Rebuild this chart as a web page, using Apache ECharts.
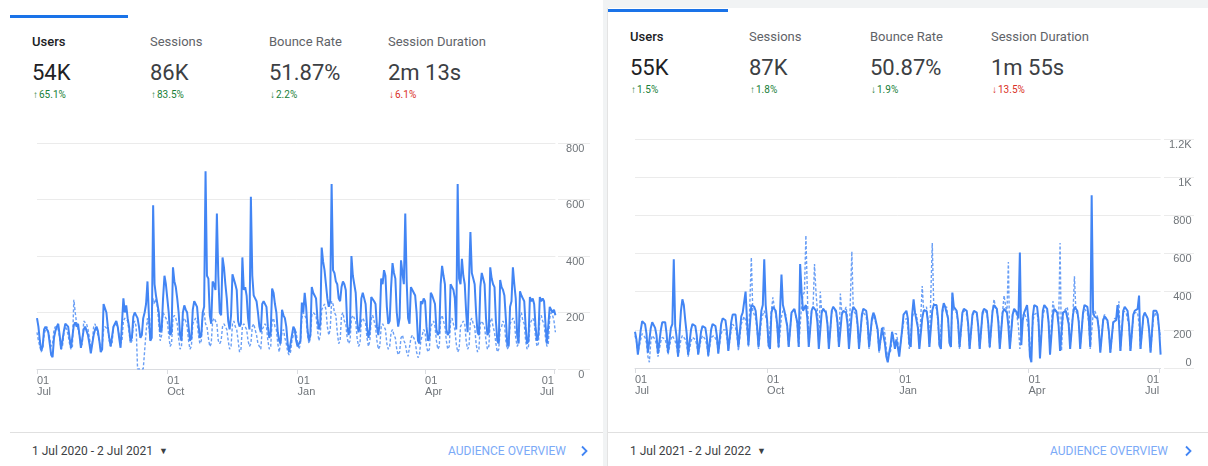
<!DOCTYPE html>
<html>
<head>
<meta charset="utf-8">
<script src="https://cdn.jsdelivr.net/npm/echarts@6.0.0/dist/echarts.min.js"></script>
<style>
  html, body { margin: 0; padding: 0; }
  body { width: 1208px; height: 466px; position: relative; overflow: hidden; background: #fff; font-family: Roboto, "Noto Sans", sans-serif; }
  .abs { position: absolute; white-space: nowrap; }
  .lbl { font-size: 13px; line-height: 13px; color: #5f6368; }
  .lbl.on { color: #202124; font-weight: 500; }
  .val { font-size: 22px; line-height: 22px; color: #3c4043; }
  .val.on { color: #202124; }
  .chg { font-size: 10px; line-height: 10px; }
  .chg b { font-weight: 700; margin-right: 1px; }
  .good { color: #188038; }
  .bad { color: #d93025; }
  .date { font-size: 12px; line-height: 12px; color: #3c4043; }
  .date span { font-size: 9px; margin-left: 6px; vertical-align: 1px; }
  .link { font-size: 12px; line-height: 12px; color: #7baaf7; }
  .bar { background: #1a73e8; height: 3px; }
  .rule { background: #e0e0e0; height: 1px; }
  #chart { position: absolute; left: 0; top: 0; width: 1208px; height: 466px; }
</style>
</head>
<body>
<div class="abs" style="left:603px;top:0;width:605px;height:8px;background:#f1f3f4"></div>
<div class="abs" style="left:603px;top:0;width:4px;height:466px;background:#f1f3f4"></div>
<div class="abs" style="left:607px;top:8px;width:1px;height:458px;background:#e3e3e3"></div>

<div class="abs bar" style="left:10px;top:15px;width:118px"></div>
<div class="abs bar" style="left:608px;top:9px;width:120px"></div>

<div id="kpis"></div>

<div class="abs rule" style="left:10px;top:432px;width:593px"></div>
<div class="abs rule" style="left:608px;top:432px;width:600px"></div>
<div class="abs date" style="left:32px;top:445px">1 Jul 2020 - 2 Jul 2021<span>▼</span></div>
<div class="abs date" style="left:630px;top:445px">1 Jul 2021 - 2 Jul 2022<span>▼</span></div>
<div class="abs link" style="left:448px;top:445px">AUDIENCE OVERVIEW</div>
<div class="abs link" style="left:1050px;top:445px">AUDIENCE OVERVIEW</div>
<svg class="abs" style="left:579px;top:445px" width="10" height="12"><polyline points="3,1.5 7.5,6 3,10.5" fill="none" stroke="#4285f4" stroke-width="1.8"/></svg>
<svg class="abs" style="left:1183px;top:445px" width="10" height="12"><polyline points="3,1.5 7.5,6 3,10.5" fill="none" stroke="#4285f4" stroke-width="1.8"/></svg>

<div id="chart"></div>

<script>
// KPI tabs
const kpiNames = ["Users", "Sessions", "Bounce Rate", "Session Duration"];
const kpiLeft = ["54K", "86K", "51.87%", "2m 13s"];
const kpiLeftChg = ["65.1%", "83.5%", "2.2%", "6.1%"];
const kpiRight = ["55K", "87K", "50.87%", "1m 55s"];
const kpiRightChg = ["1.5%", "1.8%", "1.9%", "13.5%"];
const kpiArrow = ["↑", "↑", "↓", "↓"];
const kpiTone = ["good", "good", "good", "bad"];

// daily users, one row per week (left: from Wed 1 Jul 2020, right: from Thu 1 Jul 2021)
const usersLeft = [
  180,150,100,65,80,140,150,
  145,130,90,50,42,110,135,
  150,160,120,70,75,135,160,
  165,150,110,75,80,155,165,
  150,160,120,75,80,140,150,
  150,120,90,55,55,120,140,
  150,135,100,60,70,230,215,
  200,150,110,80,75,150,160,
  170,150,110,75,80,250,200,
  225,180,150,100,110,185,200,
  190,180,150,110,120,180,200,
  230,310,190,100,110,580,300,
  260,230,200,130,140,250,330,
  300,250,200,120,130,360,310,
  290,250,200,120,100,200,225,
  210,200,150,100,110,210,240,
  230,220,160,110,120,200,220,
  700,330,320,190,160,310,300,
  280,550,330,200,190,395,360,
  300,250,170,140,190,335,330,
  300,280,170,150,160,395,280,
  290,260,180,140,610,330,260,
  250,240,200,150,130,230,240,
  235,220,150,110,130,285,270,
  230,200,130,100,90,210,190,
  180,150,90,60,55,120,150,
  140,100,80,75,100,235,200,
  270,220,140,100,120,290,270,
  260,250,180,140,160,430,380,
  350,300,250,220,240,655,350,
  340,310,300,250,240,290,310,
  300,280,160,120,150,400,330,
  300,270,170,130,150,250,270,
  250,230,150,110,140,255,250,
  240,230,150,120,170,320,300,
  350,330,220,160,170,290,375,
  340,320,200,150,180,385,340,
  300,550,310,180,160,290,280,
  270,260,200,100,90,240,230,
  250,240,150,100,110,270,260,
  260,230,140,120,130,300,365,
  330,300,140,120,130,300,300,
  280,250,140,655,320,300,390,
  330,300,200,130,125,485,340,
  320,300,200,130,120,290,340,
  320,300,180,120,130,360,320,
  300,290,170,100,90,315,290,
  280,260,180,90,80,220,240,
  360,300,250,120,90,275,260,
  250,240,150,90,100,255,240,
  250,230,150,100,120,255,240,
  250,240,160,90,85,220,210,
  200,210,190
];
const prevLeft = [
  130,100,80,60,75,120,140,
  150,130,110,80,90,140,150,
  150,140,110,70,80,130,150,
  140,120,90,70,80,245,200,
  160,140,120,80,90,170,175,
  160,140,110,80,90,150,160,
  140,120,100,70,80,140,150,
  150,140,100,80,90,150,160,
  160,150,120,90,100,170,180,
  180,170,130,90,100,160,170,
  150,0,0,0,0,0,0,
  130,180,150,100,200,250,230,
  250,220,160,100,120,200,190,
  180,170,120,80,90,180,190,
  180,160,110,70,80,170,180,
  170,150,100,70,80,160,170,
  180,170,120,90,100,190,200,
  160,150,110,80,90,170,180,
  180,160,100,90,100,150,160,
  160,140,100,70,80,160,170,
  150,140,100,60,70,150,160,
  160,140,100,80,90,150,160,
  140,120,90,80,70,140,150,
  160,150,100,70,80,170,180,
  150,140,90,60,60,130,140,
  110,90,60,50,60,100,120,
  140,130,90,70,90,180,200,
  190,180,120,90,110,190,200,
  200,190,140,100,120,210,220,
  230,210,150,120,140,240,230,
  200,190,130,90,100,190,200,
  170,160,110,90,100,180,190,
  180,170,110,80,90,170,180,
  170,160,110,80,100,180,190,
  170,150,100,70,80,150,160,
  150,140,90,70,80,130,140,
  120,110,70,50,60,110,120,
  100,90,60,45,50,110,120,
  110,100,60,40,50,100,120,
  140,130,80,60,70,150,160,
  170,150,100,70,80,180,190,
  170,150,100,70,80,170,180,
  160,140,90,60,70,150,160,
  170,160,100,70,80,170,180,
  160,150,90,60,70,160,170,
  170,150,100,70,80,170,180,
  150,130,90,60,70,140,150,
  170,160,100,70,80,160,170,
  180,170,110,80,90,190,200,
  170,160,100,70,80,160,170,
  180,170,110,80,90,180,190,
  170,160,110,80,90,180,200,
  190,170,130
];
const usersRight = [
  190,150,70,75,200,245,250,
  230,180,80,70,210,240,230,
  210,170,75,70,200,240,250,
  240,180,80,75,210,230,570,
  220,160,60,55,300,360,330,
  250,180,70,60,200,230,230,
  220,170,70,65,190,220,230,
  210,160,65,60,200,230,230,
  220,170,75,70,230,260,270,
  250,190,90,90,240,280,290,
  280,200,110,100,270,290,300,
  400,250,120,110,330,340,320,
  300,220,110,100,300,330,570,
  330,250,120,100,290,320,310,
  300,230,110,100,490,330,300,
  290,220,110,100,290,300,310,
  300,240,110,545,400,300,310,
  330,260,110,100,300,320,310,
  300,240,100,90,290,310,300,
  290,230,100,100,300,320,310,
  300,240,110,100,280,300,310,
  290,230,100,100,290,320,330,
  300,230,100,90,280,310,320,
  300,240,110,100,260,290,270,
  260,200,90,80,210,200,130,
  60,30,80,120,190,150,100,
  150,110,60,70,200,280,270,
  300,260,130,110,280,360,290,
  280,210,100,90,260,300,290,
  300,240,110,100,300,330,320,
  330,260,120,100,300,340,320,
  330,260,130,110,395,320,310,
  300,240,110,100,290,310,310,
  300,230,100,90,280,300,300,
  290,220,100,90,290,310,300,
  300,230,110,100,300,330,320,
  310,240,100,90,290,310,300,
  290,220,100,90,280,310,300,
  290,260,605,120,250,290,300,
  330,250,60,30,270,330,320,
  320,250,50,40,300,330,320,
  310,240,70,60,280,310,300,
  290,220,90,80,290,300,300,
  310,230,100,90,280,320,320,
  300,240,100,90,290,330,320,
  320,260,110,905,290,270,260,
  260,200,80,70,250,270,260,
  250,190,80,70,240,250,250,
  330,240,90,80,300,320,310,
  300,230,90,80,280,300,310,
  310,380,100,90,270,290,280,
  260,200,80,70,300,310,300,
  280,200,70
];
const prevRight = [
  170,140,80,70,150,180,170,
  160,130,60,30,140,170,160,
  150,120,60,60,140,160,160,
  150,120,70,60,150,170,160,
  140,110,60,60,150,170,170,
  150,120,60,60,140,160,160,
  150,120,70,60,150,170,160,
  150,120,60,60,160,170,170,
  170,140,80,70,180,200,200,
  200,160,90,80,200,230,220,
  210,170,90,80,230,250,270,
  250,200,110,100,580,300,290,
  260,200,100,90,250,280,300,
  300,240,110,100,300,370,320,
  280,220,100,90,270,300,300,
  280,220,110,100,290,300,310,
  300,230,110,100,330,380,400,
  695,400,120,110,300,320,545,
  400,300,130,400,290,310,300,
  300,240,110,100,290,320,310,
  290,230,110,390,290,300,300,
  320,260,120,110,610,300,290,
  280,220,100,90,270,290,280,
  270,210,100,90,250,270,260,
  230,180,80,70,200,220,180,
  100,60,60,90,150,180,190,
  180,140,80,80,190,240,250,
  260,210,100,90,260,290,290,
  280,220,110,100,430,300,300,
  320,250,110,100,655,330,320,
  310,240,110,100,290,310,300,
  320,260,130,110,390,300,300,
  290,230,100,90,280,300,290,
  280,220,100,90,270,290,290,
  280,220,100,90,280,300,300,
  290,230,100,90,300,360,320,
  320,260,110,100,300,380,330,
  290,555,100,90,290,300,300,
  270,220,100,90,270,290,280,
  250,200,60,50,240,280,290,
  290,230,90,80,280,300,300,
  300,240,100,90,350,310,300,
  290,230,655,90,280,300,300,
  320,260,110,100,290,480,300,
  300,260,110,100,280,310,300,
  290,230,100,90,280,300,290,
  270,210,90,80,260,280,270,
  240,190,80,70,230,260,250,
  260,350,90,80,300,300,290,
  280,220,90,80,270,290,300,
  290,230,100,90,270,290,280,
  260,200,90,80,260,290,280,
  260,200,160
];

const monthNames = ["Jan","Feb","Mar","Apr","May","Jun","Jul","Aug","Sep","Oct","Nov","Dec"];
const tickMonths = ["01", "04", "07", "10"];
const yTicksLeft = [0, 800, 200];
const yTicksRight = [0, 1200, 200];

function dayList(start, n) {
  const out = [];
  const t0 = Date.parse(start + "T00:00:00Z");
  for (let i = 0; i < n; i++) out.push(new Date(t0 + i * 864e5).toISOString().slice(0, 10));
  return out;
}
const daysLeft = dayList("2020-07-01", usersLeft.length);
const daysRight = dayList("2021-07-01", usersRight.length);

function renderKpis(x0, top, values, changes) {
  let html = "";
  kpiNames.forEach((name, i) => {
    const x = x0[i];
    const on = i === 0 ? " on" : "";
    html += `<div class="abs lbl${on}" style="left:${x}px;top:${top}px">${name}</div>`;
    html += `<div class="abs val${on}" style="left:${x}px;top:${top + 26.5}px">${values[i]}</div>`;
    html += `<div class="abs chg ${kpiTone[i]}" style="left:${x + 1}px;top:${top + 54.5}px"><b>${kpiArrow[i]}</b>${changes[i]}</div>`;
  });
  return html;
}
document.getElementById("kpis").innerHTML =
  renderKpis([32, 150, 269, 388], 35, kpiLeft, kpiLeftChg) +
  renderKpis([630, 749, 870, 991], 30, kpiRight, kpiRightChg);

const isTick = (idx, val) => val.slice(8) === "01" && tickMonths.includes(val.slice(5, 7));
const fmtK = (v) => (v >= 1000 ? v / 1000 + "K" : String(v));

function xAxis(gridIndex, data) {
  return {
    type: "category",
    gridIndex,
    data,
    boundaryGap: false,
    axisLine: { lineStyle: { color: "#dadce0" } },
    axisTick: { show: true, interval: isTick, length: 5, lineStyle: { color: "#dadce0" } },
    axisLabel: {
      interval: isTick,
      formatter: (v) => "01\n" + monthNames[+v.slice(5, 7) - 1],
      align: "left",
      alignMaxLabel: "right",
      color: "#70757a",
      fontSize: 11,
      lineHeight: 11,
      margin: 6,
    },
    splitLine: { show: false },
  };
}

// empty axis for the short grid-line stubs under the value labels
function stubX(gridIndex) {
  return { type: "category", gridIndex, data: [], show: false };
}

function yAxis(gridIndex, ticks, label) {
  return {
    type: "value",
    gridIndex,
    position: "right",
    min: ticks[0],
    max: ticks[1],
    interval: ticks[2],
    axisLine: { show: false },
    axisTick: { show: false },
    axisLabel: label
      ? Object.assign({ color: "#70757a", fontSize: 11, align: "right", verticalAlign: "top" }, label)
      : { show: false },
    splitLine: { show: !label || !label.noSplit, lineStyle: { color: "#ebebeb" } },
  };
}

function line(xi, data, dashed) {
  return {
    type: "line",
    xAxisIndex: xi,
    yAxisIndex: xi,
    data,
    showSymbol: false,
    symbol: "none",
    z: dashed ? 2 : 3,
    lineStyle: dashed
      ? { color: "#6a9ff5", width: 1.4, type: [3, 2] }
      : { color: "#4285f4", width: 2 },
  };
}

const chart = echarts.init(document.getElementById("chart"), null, { renderer: "canvas" });
chart.setOption({
  animation: false,
  grid: [
    { left: 37, top: 143, width: 518.4, height: 226 },
    { left: 635, top: 139, width: 525.6, height: 229 },
    { left: 558, top: 143, width: 32, height: 226 },
    { left: 1164, top: 139, width: 30, height: 229 },
  ],
  xAxis: [xAxis(0, daysLeft), xAxis(1, daysRight), stubX(2), stubX(3)],
  yAxis: [
    yAxis(0, yTicksLeft, { margin: 29, formatter: fmtK }),
    yAxis(1, yTicksRight, { margin: 31, formatter: (v) => (v === 0 ? "" : fmtK(v)) }),
    yAxis(2, yTicksLeft, null),
    yAxis(3, yTicksRight, null),
    yAxis(1, yTicksRight, { margin: 31, verticalAlign: "bottom", noSplit: true, formatter: (v) => (v === 0 ? "0" : "") }),
  ],
  series: [
    line(0, prevLeft, true),
    line(0, usersLeft, false),
    line(1, prevRight, true),
    line(1, usersRight, false),
  ],
});
</script>
</body>
</html>
